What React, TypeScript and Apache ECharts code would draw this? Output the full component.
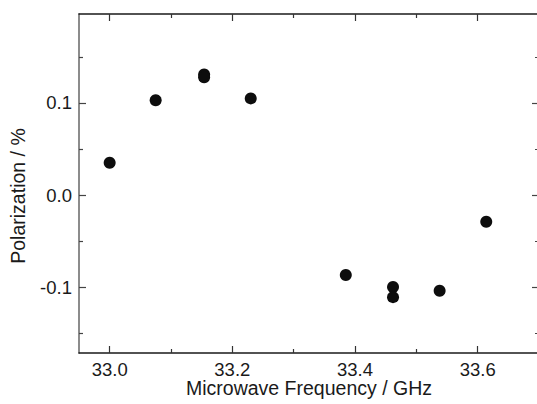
import React, { useEffect, useRef } from "react";
import * as echarts from "echarts";

const frequencyGHz = [33.0, 33.075, 33.154, 33.154, 33.23, 33.385, 33.462, 33.462, 33.538, 33.614];
const polarization = [0.035, 0.103, 0.131, 0.128, 0.105, -0.087, -0.1, -0.111, -0.104, -0.029];

const xMajorTicks = [33.0, 33.2, 33.4, 33.6];
const xMinorTicks = [33.1, 33.3, 33.5, 33.7];
const yMajorTicks = [-0.1, 0.0, 0.1];
const yMinorTicks = [-0.15, -0.05, 0.05, 0.15];

const xTitle = "Microwave Frequency / GHz";
const yTitle = "Polarization / %";

const X_MIN = 32.95;
const X_MAX = 33.7;
const Y_MIN = -0.1717;
const Y_MAX = 0.1967;

const FONT = "Liberation Sans";

export default function App() {
  const ref = useRef<HTMLDivElement>(null);
  useEffect(() => {
    if (!ref.current) return;
    const chart = echarts.init(ref.current, null, { renderer: "svg" });
    const baseX = (position: "top" | "bottom", ticks: number[], len: number, showLine: boolean, showLabel: boolean) => ({
      type: "value",
      position,
      min: X_MIN,
      max: X_MAX,
      splitLine: { show: false },
      axisLine: { show: showLine, onZero: false, lineStyle: { color: "#1a1a1a", width: 1.5 } },
      axisTick: { show: true, inside: true, length: len, customValues: ticks, lineStyle: { color: "#333", width: 1.2 } },
      axisLabel: showLabel
        ? { show: true, customValues: xMajorTicks, formatter: (v: number) => v.toFixed(1), fontFamily: FONT, fontSize: 18.5, lineHeight: 16, color: "#1a1a1a", margin: 8 }
        : { show: false },
    });
    const baseY = (position: "left" | "right", ticks: number[], len: number, showLine: boolean, showLabel: boolean) => ({
      type: "value",
      position,
      min: Y_MIN,
      max: Y_MAX,
      splitLine: { show: false },
      axisLine: { show: showLine, onZero: false, lineStyle: { color: position === "left" ? "#666" : "#1a1a1a", width: 1.5 } },
      axisTick: { show: true, inside: true, length: len, customValues: ticks, lineStyle: { color: "#444", width: 1.2 } },
      axisLabel: showLabel
        ? { show: true, customValues: yMajorTicks, formatter: (v: number) => v.toFixed(1), fontFamily: FONT, fontSize: 18.5, color: "#1a1a1a", margin: 7 }
        : { show: false },
    });
    const xAxes: any[] = [
      baseX("bottom", xMajorTicks, 7, true, true),
      baseX("bottom", xMinorTicks, 4, false, false),
      baseX("top", xMajorTicks, 7, true, false),
      baseX("top", xMinorTicks, 4, false, false),
    ];
    const yAxes: any[] = [
      baseY("left", yMajorTicks, 7, true, true),
      baseY("left", yMinorTicks, 4, false, false),
      baseY("right", yMajorTicks, 7, true, false),
      baseY("right", yMinorTicks, 4, false, false),
    ];
    chart.setOption({
      animation: false,
      backgroundColor: "#ffffff",
      grid: { left: 79, top: 14, right: -2, bottom: 51, containLabel: false, outerBoundsMode: "none" },
      xAxis: xAxes,
      yAxis: yAxes,
      graphic: [
        {
          type: "text",
          x: 18,
          y: 196,
          rotation: Math.PI / 2,
          style: { text: yTitle, fontFamily: FONT, fontSize: 19.5, fill: "#1a1a1a", align: "center", verticalAlign: "middle" },
        },
        {
          type: "text",
          x: 309,
          y: 388,
          style: { text: xTitle, fontFamily: FONT, fontSize: 19.5, lineHeight: 16, fill: "#1a1a1a", align: "center", verticalAlign: "middle" },
        },
      ],
      series: [
        {
          type: "scatter",
          xAxisIndex: 0,
          yAxisIndex: 0,
          symbol: "circle",
          symbolSize: 12,
          itemStyle: { color: "#0d0d0d", opacity: 1 },
          data: frequencyGHz.map((f, i) => [f, polarization[i]]),
        },
      ],
    });
    return () => chart.dispose();
  }, []);
  return <div ref={ref} style={{ position: "fixed", left: 0, top: 0, width: 537, height: 404 }} />;
}
